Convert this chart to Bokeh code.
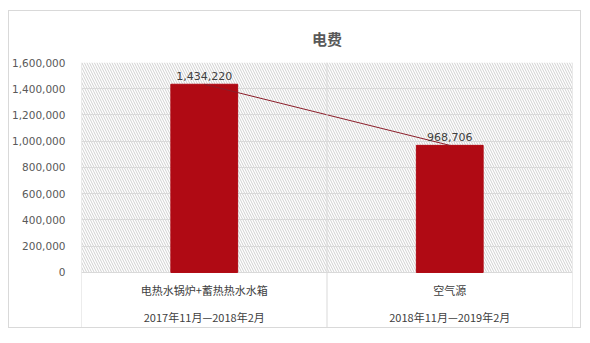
from bokeh.plotting import figure
from bokeh.models import Range1d, FixedTicker, NumeralTickFormatter, Span, ColumnDataSource
from bokeh.core.properties import value
from bokeh.embed import file_html
from bokeh.resources import INLINE

# Electricity cost for two heating seasons
title_text = "电费"
systems = ["电热水锅炉+蓄热热水水箱", "空气源"]
periods = ["2017年11月—2018年2月", "2018年11月—2019年2月"]
costs = [1434220, 968706]
y_ticks = [0, 200000, 400000, 600000, 800000, 1000000, 1200000, 1400000, 1600000]

CJK = "Noto Sans CJK SC"
NUM = "DejaVu Sans"

xs = [i + 0.5 for i in range(len(costs))]
src = ColumnDataSource(dict(
    x=xs, cost=costs, system=systems, period=periods,
    label=[f"{c:,}" for c in costs],
))

y_top = y_ticks[-1]
p = figure(width=573, height=318, margin=(10, 0, 0, 8),
           output_backend="svg", toolbar_location=None,
           x_range=Range1d(0, len(costs)),
           y_range=Range1d(-y_top * 0.262, y_top),
           min_border_left=71, min_border_right=10,
           min_border_top=51, min_border_bottom=2,
           title=title_text)
p.styles = {"border": "1px solid #d9d9d9"}

p.title.align = "center"
p.title.text_font = CJK
p.title.text_font_size = "15px"
p.title.text_color = "#595959"
p.title.text_font_style = "bold"
p.title.text_line_height = 0.9
p.title.standoff = 28

p.outline_line_color = None
p.background_fill_color = "white"
p.border_fill_color = "white"

# hatched plot area
p.quad(left=[0], right=[len(costs)], bottom=[0], top=[y_top],
       fill_color="white", line_color=None,
       hatch_pattern="\\", hatch_color="#d0d0d0", hatch_scale=5,
       hatch_weight=1, level="image")

# axes
p.xaxis.visible = False
p.xgrid.visible = False
p.yaxis.ticker = FixedTicker(ticks=y_ticks)
p.yaxis.formatter = NumeralTickFormatter(format="0,0")
p.yaxis.axis_line_color = None
p.yaxis.major_tick_line_color = None
p.yaxis.minor_tick_line_color = None
p.yaxis.major_label_standoff = 10
p.yaxis.major_label_text_font = NUM
p.yaxis.major_label_text_font_size = "10.5px"
p.yaxis.major_label_text_color = "#595959"
p.ygrid.ticker = FixedTicker(ticks=y_ticks)
p.ygrid.grid_line_color = "#d9d9d9"

# category separators
for xv in range(len(costs) + 1):
    p.add_layout(Span(location=xv, dimension="height",
                      line_color="#d9d9d9", line_width=1))

# bars
p.vbar(x="x", top="cost", width=0.272, bottom=0, source=src,
       fill_color="#B00A14", line_color="#B00A14")

# connecting line between bar tops
p.line(x="x", y="cost", source=src, line_color="#8B1E2A", line_width=1)

# value labels
p.text(x="x", y="cost", text="label", source=src,
       text_align="center", text_baseline="bottom", y_offset=-4,
       text_font=value(NUM), text_font_size="11px", text_color="#404040")

# two-level category labels
p.text(x="x", y=0, text="system", source=src,
       text_align="center", text_baseline="middle", y_offset=18,
       text_font=value(CJK), text_font_size="11px", text_color="#404040")
p.text(x="x", y=0, text="period", source=src,
       text_align="center", text_baseline="middle", y_offset=45,
       text_font=value(CJK), text_font_size="11px", text_color="#404040")

open("out.html", "w").write(file_html(p, INLINE))
